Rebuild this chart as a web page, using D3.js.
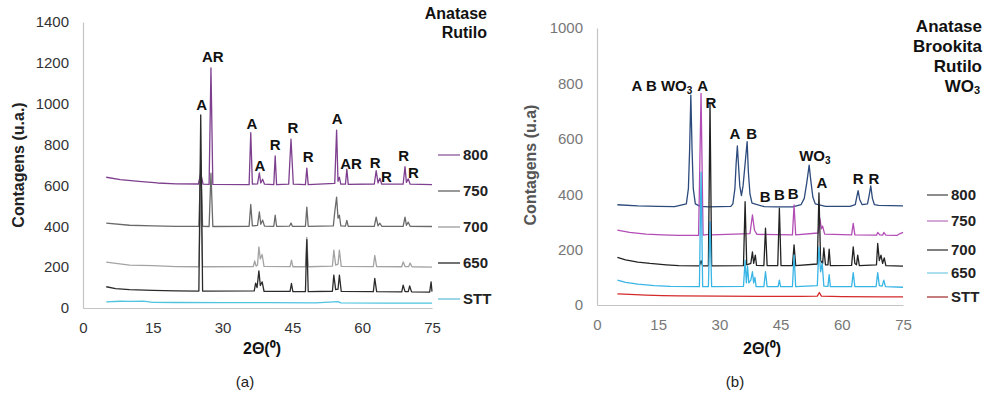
<!DOCTYPE html>
<html>
<head>
<meta charset="utf-8">
<script src="https://cdn.jsdelivr.net/npm/d3@7"></script>
<style>
body { margin: 0; background: #fff; }
text { font-family: "Liberation Sans", Arial, sans-serif; }
</style>
</head>
<body>
<div id="chart"></div>
<script>
// tick values
var xTicks = [0, 15, 30, 45, 60, 75];
var yTicksA = [0, 200, 400, 600, 800, 1000, 1200, 1400];
var yTicksB = [0, 200, 400, 600, 800, 1000];
var seriesNames = ["800", "750", "700", "650", "STT"];

// panel (a) patterns, [2theta, counts]
var a800 = [[5,640],[8,628],[12,620],[16,612],[20,608],[24.8,607],[25.3,660],[25.8,606],[27.1,605],[27.5,1175],[27.9,605],[35.7,604],[36.05,858],[36.4,606],[37.5,608],[37.9,661],[38.2,612],[38.6,630],[39.0,606],[41.0,604],[41.3,744],[41.6,604],[44.2,606],[44.7,826],[45.2,606],[47.8,604],[48.1,685],[48.4,604],[54.1,610],[54.5,871],[54.8,620],[55.1,640],[55.4,606],[56.4,606],[56.7,680],[57.0,605],[62.6,607],[63.0,672],[63.4,612],[63.8,635],[64.2,606],[68.8,606],[69.2,692],[69.5,615],[69.9,632],[70.3,606],[75,604]];
var a750 = [[5,415],[10,405],[15,402],[20,400],[24.9,400],[25.3,720],[25.7,400],[27.1,399],[27.5,660],[27.9,399],[35.7,400],[36.05,507],[36.4,402],[37.5,404],[37.9,470],[38.2,410],[38.6,430],[39.0,401],[41.0,400],[41.3,454],[41.6,400],[44.4,401],[44.7,416],[45.0,400],[47.8,400],[48.1,494],[48.4,400],[53.8,402],[54.1,470],[54.5,543],[54.8,440],[55.1,454],[55.4,402],[56.4,401],[56.7,429],[57.0,400],[62.6,400],[63.0,445],[63.4,402],[63.8,415],[64.2,400],[68.8,400],[69.2,445],[69.5,405],[69.9,420],[70.3,400],[75,399]];
var a700 = [[5,225],[10,210],[15,207],[20,203],[24.9,202],[25.3,560],[25.7,202],[36.6,203],[36.9,230],[37.2,205],[37.5,210],[37.8,299],[38.1,240],[38.5,262],[38.9,204],[44.5,203],[44.8,234],[45.1,202],[47.8,202],[48.1,346],[48.4,202],[53.6,205],[53.9,283],[54.3,210],[54.8,215],[55.1,283],[55.5,204],[62.4,203],[62.7,258],[63.1,203],[68.5,202],[68.8,226],[69.2,203],[70.0,203],[70.3,220],[70.7,202],[75,200]];
var a650 = [[5,104],[7,95],[10,90],[15,86],[20,84],[24.9,83],[25.3,945],[25.7,83],[36.8,84],[37.1,122],[37.4,100],[37.8,182],[38.1,110],[38.5,128],[38.9,82],[44.5,81],[44.8,120],[45.1,80],[47.8,80],[48.1,335],[48.4,80],[53.6,82],[53.9,161],[54.3,90],[54.8,92],[55.1,161],[55.5,81],[62.4,80],[62.7,145],[63.1,80],[68.5,79],[68.8,112],[69.2,80],[69.9,80],[70.2,108],[70.6,79],[74.5,78],[74.8,128],[75,80]];
var aSTT = [[5,30],[8,33],[10,32],[13,34],[15,28],[20,27],[30,26],[40,26],[50,25],[54.8,31],[55.4,25],[65,24],[75,24]];

// panel (a) peak labels, [text, 2theta, counts]
var labelsA = [["A",25.5,998],["AR",27.9,1229],["A",36.3,905],["A",38.0,695],["R",41.3,798],["R",45.1,881],["R",48.4,739],["A",54.6,925],["AR",57.6,705],["R",62.8,710],["R",65.2,645],["R",68.9,744],["R",71.0,662]];

// panel (b) patterns
var b800 = [[5,362],[10,358],[15,356],[19,355],[21.9,365],[22.4,420],[22.7,560],[23.0,758],[23.3,560],[23.6,420],[24.1,365],[25.3,356],[27.4,354],[32.8,356],[33.3,365],[33.8,420],[34.1,510],[34.4,574],[34.7,500],[35.0,430],[35.4,395],[35.8,430],[36.3,510],[36.8,590],[37.1,480],[37.5,400],[38.0,368],[41,355],[44,354],[48,354],[50.0,362],[50.8,385],[51.4,440],[52.0,505],[52.4,450],[52.9,390],[53.5,365],[56,356],[62,356],[63.3,362],[63.6,385],[64.0,413],[64.4,380],[65.0,362],[66.3,365],[66.7,395],[67.1,430],[67.5,385],[68.0,362],[69,360],[75,358]];
var b750 = [[5,270],[8,262],[12,256],[16,253],[20,251],[24.9,251],[25.5,764],[26.0,252],[27.4,255],[27.7,300],[28.0,253],[37.5,258],[38.1,325],[38.6,270],[39.2,255],[47.9,253],[48.3,361],[48.7,253],[54.2,260],[54.6,314],[55.0,275],[55.3,285],[55.8,256],[62.4,253],[62.8,295],[63.2,253],[68.5,252],[68.8,262],[69.3,253],[70.0,252],[70.3,262],[70.8,252],[73.5,251],[74.3,258],[75,262]];
var b700 = [[5,172],[7,163],[10,155],[13,150],[17,145],[20,142],[25.1,141],[25.5,160],[25.9,141],[27.3,141],[27.7,728],[28.1,141],[35.9,142],[36.3,373],[36.7,145],[37.7,150],[38.1,192],[38.4,150],[38.8,180],[39.1,143],[40.9,142],[41.3,277],[41.7,142],[44.3,142],[44.7,350],[45.1,142],[47.9,142],[48.3,217],[48.7,142],[54.0,148],[54.4,405],[54.8,160],[55.3,150],[55.6,206],[56.0,145],[56.6,145],[56.9,202],[57.2,142],[62.4,143],[62.8,210],[63.2,150],[63.6,145],[63.9,180],[64.3,142],[68.5,145],[68.8,222],[69.2,160],[69.6,180],[70.0,150],[70.4,170],[70.8,142],[75,140]];
var b650 = [[5,90],[7,82],[10,75],[14,70],[18,67],[25.1,66],[25.5,480],[25.9,66],[27.3,66],[27.7,300],[28.1,66],[35.9,67],[36.3,162],[36.6,80],[36.9,140],[37.2,80],[37.7,90],[38.1,120],[38.4,80],[38.7,100],[39.0,66],[40.9,66],[41.3,120],[41.7,66],[44.4,66],[44.7,90],[45.0,66],[47.9,66],[48.3,180],[48.7,66],[54.0,70],[54.4,210],[54.8,120],[55.2,150],[55.6,68],[56.6,67],[56.9,110],[57.2,66],[62.4,66],[62.8,117],[63.2,66],[68.4,66],[68.8,117],[69.2,70],[69.9,68],[70.3,90],[70.7,66],[75,64]];
var bSTT = [[5,40],[8,38],[12,36],[16,34],[20,33],[30,32],[40,31],[50,31],[54.0,32],[54.5,45],[55.0,32],[60,30],[70,29],[75,29]];

// panel (b) peak labels
var labelsB = [["A",25.9,791],["R",27.9,730],["A",33.8,617],["B",37.9,617],["B",41.2,391],["B",44.7,397],["B",48.1,403],["A",55.1,442],["R",64.0,457],["R",67.9,457]];
var wo3LabelsB = [["A B WO",15.9,791],["WO",53.4,538]];

var phasesA = ["Anatase", "Rutilo"];
var phasesB = ["Anatase", "Brookita", "Rutilo", "WO"];

var svg = d3.select("#chart").append("svg")
	.attr("width", 984)
	.attr("height", 402);

svg.append("rect").attr("width", 984).attr("height", 402).attr("fill", "#fff");

function styleAxis(g, color) {
	g.select(".domain").attr("stroke", "#c4c4c4").attr("stroke-width", 1.2);
	g.selectAll("text").attr("font-size", 15).attr("fill", color)
		.attr("font-family", "Liberation Sans, Arial, sans-serif");
}

// ---------- panel (a) ----------
var xA = d3.scaleLinear().domain([0, 75]).range([83, 432]);
var yA = d3.scaleLinear().domain([0, 1400]).range([308, 22]);

svg.append("g")
	.attr("transform", "translate(0,308)")
	.call(d3.axisBottom(xA).tickValues(xTicks).tickFormat(d3.format("d")).tickSize(0).tickPadding(14))
	.call(g => styleAxis(g, "#333"));
svg.append("g")
	.attr("transform", "translate(83,0)")
	.call(d3.axisLeft(yA).tickValues(yTicksA).tickFormat(d3.format("d")).tickSize(0).tickPadding(14))
	.call(g => styleAxis(g, "#333"));

var lineA = d3.line().x(d => xA(d[0])).y(d => yA(d[1]));
var colorsA = ["#7d3f8e", "#6a6a6a", "#a3a3a3", "#2b2b2b", "#4fc3e0"];
[a800, a750, a700, a650, aSTT].forEach(function(s, i) {
	svg.append("path").datum(s)
		.attr("d", lineA)
		.attr("fill", "none")
		.attr("stroke", colorsA[i])
		.attr("stroke-width", 1.3)
		.attr("stroke-linejoin", "round");
});

svg.selectAll(".labA").data(labelsA).enter()
	.append("text")
	.attr("x", d => xA(d[1]))
	.attr("y", d => yA(d[2]))
	.attr("dy", "0.36em")
	.attr("text-anchor", "middle")
	.attr("font-size", 15)
	.attr("font-weight", "bold")
	.attr("fill", "#111")
	.text(d => d[0]);

// legend (a)
var legColorsA = ["#9a70a8", "#777", "#aaa", "#444", "#7cc8de"];
var legYA = [155, 191, 227, 263, 299];
seriesNames.forEach(function(n, i) {
	svg.append("line").attr("x1", 438).attr("x2", 460)
		.attr("y1", legYA[i]).attr("y2", legYA[i])
		.attr("stroke", legColorsA[i]).attr("stroke-width", 1.5);
	svg.append("text").attr("x", 463).attr("y", legYA[i]).attr("dy", "0.36em")
		.attr("font-size", 15).attr("font-weight", "bold").attr("fill", "#222")
		.text(n);
});

phasesA.forEach(function(p, i) {
	svg.append("text").attr("x", 487).attr("y", 13 + i * 19).attr("dy", "0.36em")
		.attr("text-anchor", "end").attr("font-size", 16).attr("font-weight", "bold")
		.attr("fill", "#111").text(p);
});

svg.append("text")
	.attr("transform", "translate(18,165) rotate(-90)")
	.attr("text-anchor", "middle").attr("dy", "0.36em")
	.attr("font-size", 16).attr("font-weight", "bold").attr("fill", "#222")
	.text("Contagens (u.a.)");
svg.append("text").attr("x", 262).attr("y", 348).attr("dy", "0.36em")
	.attr("text-anchor", "middle").attr("font-size", 16).attr("font-weight", "bold")
	.attr("fill", "#111").text("2Θ(⁰)");
svg.append("text").attr("x", 245).attr("y", 382).attr("dy", "0.36em")
	.attr("text-anchor", "middle").attr("font-size", 15).attr("fill", "#222").text("(a)");

// ---------- panel (b) ----------
var xB = d3.scaleLinear().domain([0, 75]).range([597, 903]);
var yB = d3.scaleLinear().domain([0, 1000]).range([305, 28]);

svg.append("g")
	.attr("transform", "translate(0,305)")
	.call(d3.axisBottom(xB).tickValues(xTicks).tickFormat(d3.format("d")).tickSize(0).tickPadding(14))
	.call(g => styleAxis(g, "#777"));
svg.append("g")
	.attr("transform", "translate(597,0)")
	.call(d3.axisLeft(yB).tickValues(yTicksB).tickFormat(d3.format("d")).tickSize(0).tickPadding(14))
	.call(g => styleAxis(g, "#777"));

var lineB = d3.line().x(d => xB(d[0])).y(d => yB(d[1]));
var colorsB = ["#2c4a7c", "#b24db5", "#222222", "#39b5e6", "#d42a2a"];
[b800, b750, b700, b650, bSTT].forEach(function(s, i) {
	svg.append("path").datum(s)
		.attr("d", lineB)
		.attr("fill", "none")
		.attr("stroke", colorsB[i])
		.attr("stroke-width", 1.3)
		.attr("stroke-linejoin", "round");
});

svg.selectAll(".labB").data(labelsB).enter()
	.append("text")
	.attr("x", d => xB(d[1]))
	.attr("y", d => yB(d[2]))
	.attr("dy", "0.36em")
	.attr("text-anchor", "middle")
	.attr("font-size", 15)
	.attr("font-weight", "bold")
	.attr("fill", "#111")
	.text(d => d[0]);

// the first WO3 label is serif in the original
wo3LabelsB.forEach(function(d, i) {
	var t = svg.append("text")
		.attr("x", xB(d[1])).attr("y", yB(d[2])).attr("dy", "0.36em")
		.attr("text-anchor", "middle").attr("font-weight", "bold").attr("fill", "#111")
		.attr("font-size", 15)
		.attr("font-family", i == 0 ? "Liberation Serif, Times New Roman, serif" : null);
	t.append("tspan").text(d[0]);
	t.append("tspan").attr("font-size", 10).attr("dy", "0.25em").text("3");
});

var legColorsB = ["#666", "#c58ac8", "#555", "#8fd3ea", "#b05050"];
var legYB = [195, 221, 250, 273, 297];
seriesNames.forEach(function(n, i) {
	svg.append("line").attr("x1", 927).attr("x2", 948)
		.attr("y1", legYB[i]).attr("y2", legYB[i])
		.attr("stroke", legColorsB[i]).attr("stroke-width", 1.5);
	svg.append("text").attr("x", 951).attr("y", legYB[i]).attr("dy", "0.36em")
		.attr("font-size", 15).attr("font-weight", "bold").attr("fill", "#222")
		.text(n);
});

phasesB.forEach(function(p, i) {
	svg.append("text").attr("x", p == "WO" ? 974 : 982).attr("y", 26 + i * 20).attr("dy", "0.36em")
		.attr("text-anchor", "end").attr("font-size", 17).attr("font-weight", "bold")
		.attr("fill", "#111").text(p);
	if (p == "WO") {
		svg.append("text").attr("x", 974).attr("y", 26 + i * 20).attr("dy", "0.7em")
			.attr("font-size", 11).attr("font-weight", "bold").attr("fill", "#111").text("3");
	}
});

svg.append("text")
	.attr("transform", "translate(530,165) rotate(-90)")
	.attr("text-anchor", "middle").attr("dy", "0.36em")
	.attr("font-size", 16).attr("font-weight", "bold").attr("fill", "#555")
	.text("Contagens (u.a)");
svg.append("text").attr("x", 762).attr("y", 348).attr("dy", "0.36em")
	.attr("text-anchor", "middle").attr("font-size", 16).attr("font-weight", "bold")
	.attr("fill", "#111").text("2Θ(⁰)");
svg.append("text").attr("x", 735).attr("y", 382).attr("dy", "0.36em")
	.attr("text-anchor", "middle").attr("font-size", 15).attr("fill", "#222").text("(b)");
</script>
</body>
</html>
